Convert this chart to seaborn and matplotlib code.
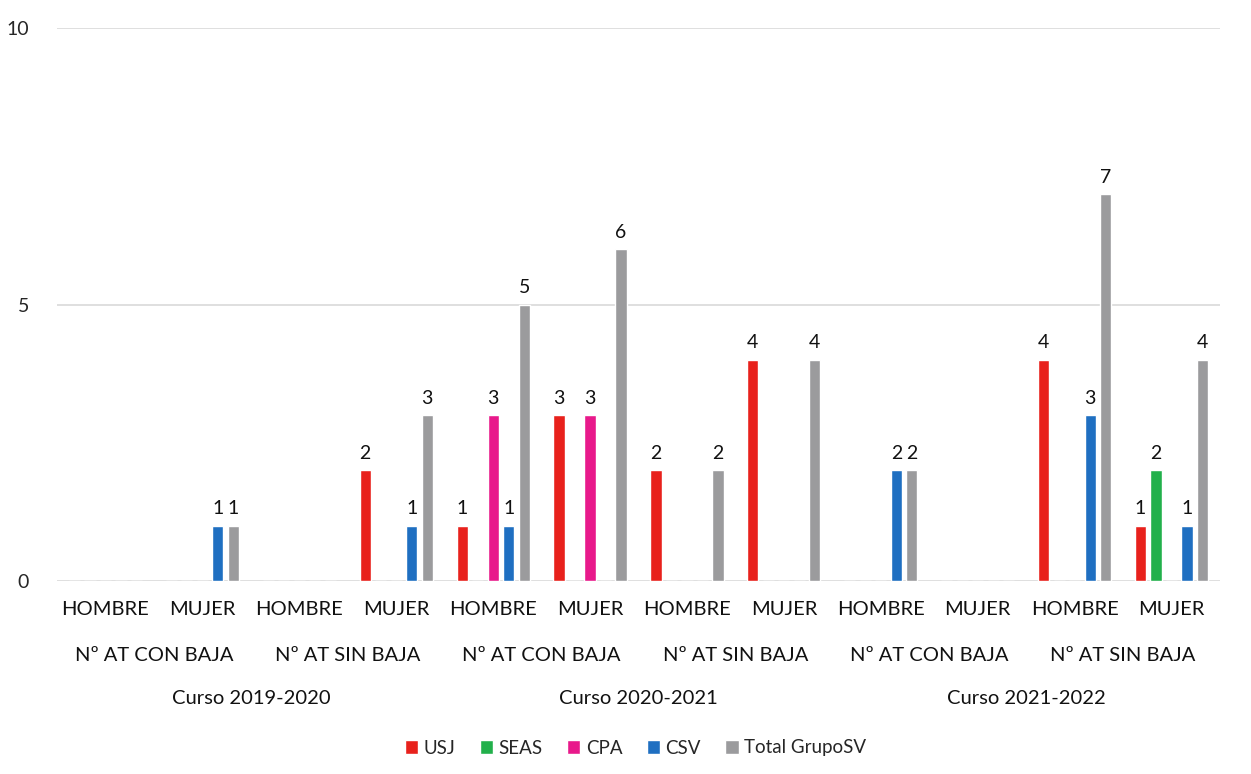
import pandas as pd
import matplotlib
matplotlib.use("Agg")
import matplotlib.pyplot as plt
import matplotlib.transforms as mtransforms
from matplotlib.patches import Patch
import seaborn as sns

# Data
cursos = ["Curso 2019-2020", "Curso 2020-2021", "Curso 2021-2022"]
tipos = ["Nº AT CON BAJA", "Nº AT SIN BAJA"]
sexos = ["HOMBRE", "MUJER"]
series = ["USJ", "SEAS", "CPA", "CSV", "Total GrupoSV"]
colores = ["#e8211c", "#22b04b", "#e8198b", "#1f6fc1", "#9b9b9d"]

# one value per group (curso / tipo / sexo order, 12 groups)
usj = [0, 0, 0, 2, 1, 3, 2, 4, 0, 0, 4, 1]
seas = [0, 0, 0, 0, 0, 0, 0, 0, 0, 0, 0, 2]
cpa = [0, 0, 0, 0, 3, 3, 0, 0, 0, 0, 0, 0]
csv = [0, 1, 0, 1, 1, 0, 0, 0, 2, 0, 3, 1]
total = [0, 1, 0, 3, 5, 6, 2, 4, 2, 0, 7, 4]

y_ticks = [0, 5, 10]


def build_frame() -> pd.DataFrame:
    valores = {"USJ": usj, "SEAS": seas, "CPA": cpa, "CSV": csv,
               "Total GrupoSV": total}
    rows = []
    for s in series:
        for i, v in enumerate(valores[s]):
            rows.append({"grupo": i, "serie": s, "valor": v})
    return pd.DataFrame(rows)


def main():
    df = build_frame()

    sns.set_style("white")
    plt.rcParams["font.family"] = ["Lato", "DejaVu Sans"]

    fig = plt.figure(figsize=(12.51, 7.74), dpi=100)
    ax = fig.add_axes([57 / 1251, 1 - 581 / 774, 1163 / 1251, 553 / 774])

    sns.barplot(data=df, x="grupo", y="valor", hue="serie",
                hue_order=series, palette=colores, width=0.8, gap=0.28,
                legend=False, ax=ax, saturation=1)

    # labels only on non-zero bars
    for cont in ax.containers:
        labels = [f"{int(b.get_height())}" if b.get_height() > 0 else ""
                  for b in cont]
        ax.bar_label(cont, labels=labels, padding=6, fontsize=14,
                     color="#111111")

    ax.set_ylim(0, 10)
    ax.set_xlim(-0.5, 11.5)
    ax.set_yticks(y_ticks)
    ax.set_yticklabels([str(t) for t in y_ticks], fontsize=14)
    ax.tick_params(axis="y", pad=20, length=0)
    ax.set_xticks([])
    ax.set_xlabel("")
    ax.set_ylabel("")
    for sp in ax.spines.values():
        sp.set_visible(False)
    for t in y_ticks:
        ax.axhline(t, color="#d9d9d9", lw=1.2, zorder=0)

    # multi-level category labels
    trans = mtransforms.blended_transform_factory(ax.transData, ax.transAxes)
    i = 0
    for ci, curso in enumerate(cursos):
        for ti, tipo in enumerate(tipos):
            for sexo in sexos:
                ax.text(i, -0.052, sexo, transform=trans, ha="center",
                        va="center", fontsize=14.5, color="#111111")
                i += 1
            ax.text(ci * 4 + ti * 2 + 0.5, -0.134, tipo, transform=trans,
                    ha="center", va="center", fontsize=14.5, color="#111111")
        ax.text(ci * 4 + 1.5, -0.212, curso, transform=trans, ha="center",
                va="center", fontsize=14.5, color="#111111")

    handles = [Patch(facecolor=c, label=s) for s, c in zip(series, colores)]
    fig.legend(handles=handles, loc="center", bbox_to_anchor=(0.508, 1 - 748 / 774),
               ncol=5, frameon=False, fontsize=13.5, handlelength=0.7,
               handleheight=0.7, handletextpad=0.3, columnspacing=1.3)

    fig.savefig("out.png", dpi=100)


if __name__ == "__main__":
    main()
